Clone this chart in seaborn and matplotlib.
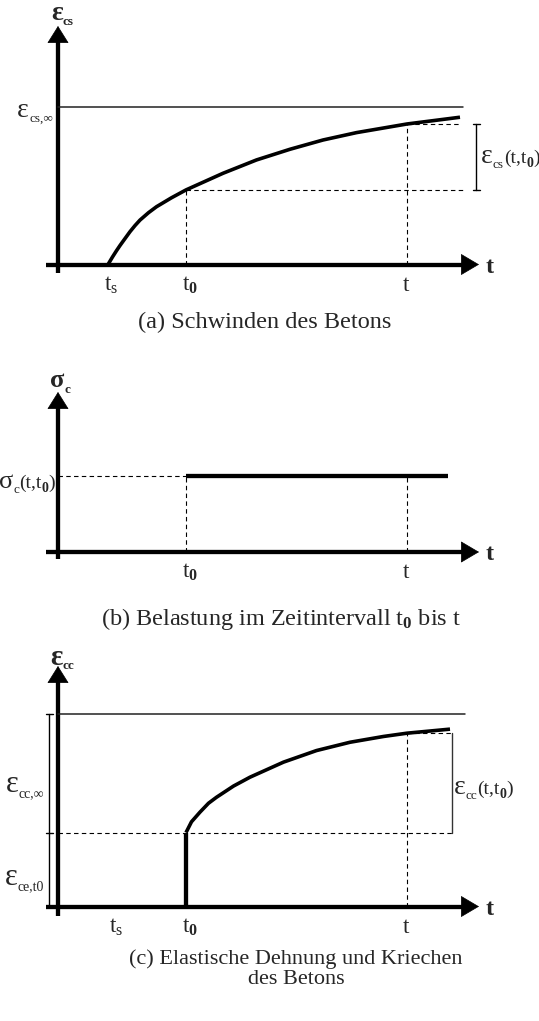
import matplotlib
matplotlib.use("Agg")
import matplotlib.pyplot as plt
import seaborn as sns

# ---- time instants (time units) ----
t_s = 1.0          # start of drying
t_0 = 2.56         # age at loading
t_obs = 6.98       # time of observation

# ---- (a) shrinkage strain of the concrete ----
shrink_t = [1.0, 1.09, 1.17, 1.24, 1.31, 1.44, 1.54, 1.64, 1.81, 1.97, 2.27,
            2.56, 3.3, 3.97, 4.64, 5.3, 5.97, 6.98, 8.04]
shrink_eps = [0.0, 0.048, 0.088, 0.121, 0.152, 0.209, 0.248, 0.283, 0.33,
              0.368, 0.425, 0.475, 0.581, 0.666, 0.734, 0.793, 0.84, 0.895,
              0.938]
eps_cs_inf = 1.0

# ---- (b) sustained stress between t_0 and t ----
sigma_c = 1.0
sigma_end = 7.8

# ---- (c) elastic strain plus creep ----
creep_t = [2.56, 2.67, 2.84, 3.01, 3.17, 3.51, 3.84, 4.51, 5.17, 5.84, 6.51,
           6.98, 7.84]
creep_eps = [0.383, 0.439, 0.489, 0.535, 0.566, 0.624, 0.67, 0.748, 0.808,
             0.851, 0.881, 0.898, 0.919]
eps_ce = 0.383
eps_cc_inf = 1.0

tick_labels_ac = ["t$_\\mathrm{s}$", "t$_\\mathbf{0}$", "t"]
tick_labels_b = ["t$_\\mathbf{0}$", "t"]
captions = ["(a) Schwinden des Betons",
            "(b) Belastung im Zeitintervall t$_\\mathbf{0}$ bis t",
            "(c) Elastische Dehnung und Kriechen\ndes Betons"]

sns.set_theme(style="white")
plt.rcParams["font.family"] = ["Liberation Serif", "DejaVu Serif"]
plt.rcParams["mathtext.fontset"] = "custom"
plt.rcParams["mathtext.rm"] = "Liberation Serif"
plt.rcParams["mathtext.it"] = "Liberation Serif:italic"
plt.rcParams["mathtext.bf"] = "Liberation Serif:bold"

W, H = 539, 1021
fig = plt.figure(figsize=(W / 100, H / 100), dpi=100)
fig.patch.set_facecolor("white")
renderer = fig.canvas.get_renderer()

X0 = 58.0    # pixel column of the vertical axis
SX = 50.0    # pixels per time unit

LW_AX = 3.1
LW_CURVE = 2.6
LW_THIN = 1.0
DASH = dict(color="black", lw=0.8, dashes=(4, 3))
FS = 16.5      # tick labels and time-axis name
FS_CAP = 17.5
B, N = "bold", "normal"


def symbol_label(sym, sub, size=20, sub_size=9.5, weight=N, sub_drop=5):
    return [(sym, size, weight, 0), (sub, sub_size, weight, sub_drop)]


def arg_label(size=14, sub_size=10):
    return [("(t,t", size, N, 0), ("0", sub_size, B, 4), (")", size, N, 0)]


class Panel:
    def __init__(self, top, bottom, y0, sy):
        self.top, self.bottom, self.y0, self.sy = top, bottom, y0, sy
        self.ax = fig.add_axes([0, 1 - bottom / H, 1, (bottom - top) / H])
        self.ax.set_xlim(-X0 / SX, (W - X0) / SX)
        self.ax.set_ylim((y0 - bottom) / sy, (y0 - top) / sy)
        self.ax.axis("off")

    def px(self, x, y):
        """figure pixel position -> data coordinates of this panel"""
        return (x - X0) / SX, (self.y0 - y) / self.sy

    def dy(self, p):
        return p / self.sy

    def text(self, x, y, s, **kw):
        kw.setdefault("fontsize", FS)
        return self.ax.text(*self.px(x, y), s, **kw)

    def rich(self, x, baseline, pieces, ha="left"):
        """label built from pieces (text, size, weight, drop below baseline)"""
        widths = []
        for s, fs, wt, _ in pieces:
            t = self.ax.text(0, 0, s, fontsize=fs, fontweight=wt)
            widths.append(t.get_window_extent(renderer).width)
            t.remove()
        cur = x - sum(widths) if ha == "right" else x
        for (s, fs, wt, drop), w in zip(pieces, widths):
            self.text(cur, baseline + drop, s, fontsize=fs, fontweight=wt,
                      ha="left", va="baseline")
            cur += w

    def draw_axes(self, y_tip_px, y_below_px):
        ax = self.ax
        x_start, x_tip = (46 - X0) / SX, (479 - X0) / SX
        head_x = 17 / SX
        ax.plot([x_start, x_tip - head_x], [0, 0], color="black", lw=LW_AX,
                solid_capstyle="butt")
        ax.annotate("", xy=(x_tip, 0), xytext=(x_tip - head_x, 0),
                    arrowprops=dict(arrowstyle="-|>,head_length=12.2,head_width=7.2",
                                    mutation_scale=1, lw=0.5, color="black",
                                    shrinkA=0, shrinkB=0))
        y_tip = self.dy(self.y0 - y_tip_px)
        head_y = self.dy(16)
        ax.plot([0, 0], [-self.dy(y_below_px), y_tip - head_y], color="black",
                lw=LW_AX, solid_capstyle="butt")
        ax.annotate("", xy=(0, y_tip), xytext=(0, y_tip - head_y),
                    arrowprops=dict(arrowstyle="-|>,head_length=11.5,head_width=7.2",
                                    mutation_scale=1, lw=0.5, color="black",
                                    shrinkA=0, shrinkB=0))
        # name of the time axis
        self.text(486, self.y0 + 8, "t", fontsize=17.5, fontweight=B,
                  va="baseline")

    def tick_labels(self, xs, labels):
        for x, lab in zip(xs, labels):
            px_x = X0 + x * SX
            self.text(px_x - 4, self.y0 + 26, lab, ha="left", va="baseline")


# ============ (a) Schwinden ============
pa = Panel(0, 340, 264.5, 157.0)
ax = pa.ax
pa.draw_axes(26, 8.5)
ax.plot([0, (462.7 - X0) / SX], [eps_cs_inf, eps_cs_inf], color="#222222", lw=1.1)
sns.lineplot(x=shrink_t, y=shrink_eps, ax=ax, color="black", lw=LW_CURVE,
             estimator=None, sort=False, solid_capstyle="butt")
e_t0 = shrink_eps[shrink_t.index(t_0)]
e_t = shrink_eps[shrink_t.index(t_obs)]
ax.plot([t_0, t_0], [0, e_t0], **DASH)
ax.plot([t_0, (465 - X0) / SX], [e_t0, e_t0], **DASH)
ax.plot([t_obs, t_obs], [0, e_t], **DASH)
ax.plot([t_obs, (460 - X0) / SX], [e_t, e_t], **DASH)
xb = (476 - X0) / SX
tk = 3.5 / SX
ax.plot([xb, xb], [e_t0, e_t], color="black", lw=LW_THIN)
ax.plot([xb - tk, xb + tk], [e_t0, e_t0], color="black", lw=LW_THIN)
ax.plot([xb - tk, xb + tk], [e_t, e_t], color="black", lw=LW_THIN)
pa.rich(51, 20, symbol_label("ε", "cs", weight=B))
pa.rich(53, 117, symbol_label("ε", "cs,∞"), ha="right")
pa.rich(481, 163, symbol_label("ε", "cs") + arg_label())
pa.tick_labels([t_s, t_0, t_obs], tick_labels_ac)
pa.text(265, 322, captions[0], ha="center", va="center", fontsize=FS_CAP)

# ============ (b) Belastung ============
pb = Panel(340, 640, 552.0, 76.5)
ax = pb.ax
pb.draw_axes(392, 7)
sns.lineplot(x=[t_0, sigma_end], y=[sigma_c, sigma_c], ax=ax, color="black",
             lw=LW_CURVE + 0.5, estimator=None, solid_capstyle="butt")
ax.plot([0, t_0], [sigma_c, sigma_c], **DASH)
ax.plot([t_0, t_0], [0, sigma_c], **DASH)
ax.plot([t_obs, t_obs], [0, sigma_c], **DASH)
pb.rich(50, 387, symbol_label("σ", "c", size=19, weight=B, sub_drop=6))
pb.rich(55, 488, symbol_label("σ", "c", size=19) + arg_label(), ha="right")
pb.tick_labels([t_0, t_obs], tick_labels_b)
pb.text(281, 619, captions[1], ha="center", va="center", fontsize=FS_CAP)

# ============ (c) Elastische Dehnung und Kriechen ============
pc = Panel(640, 1021, 906.5, 193.0)
ax = pc.ax
pc.draw_axes(666, 9.5)
ax.plot([0, (465 - X0) / SX], [eps_cc_inf, eps_cc_inf], color="#222222", lw=1.1)
ax.plot([t_0, t_0], [0, eps_ce], color="black", lw=LW_AX, solid_capstyle="butt")
sns.lineplot(x=creep_t, y=creep_eps, ax=ax, color="black", lw=LW_CURVE,
             estimator=None, sort=False, solid_capstyle="butt")
c_t = creep_eps[creep_t.index(t_obs)]
x_end = (452 - X0) / SX
ax.plot([0, x_end], [eps_ce, eps_ce], **DASH)
ax.plot([t_obs, t_obs], [0, c_t], **DASH)
ax.plot([t_obs, x_end], [c_t, c_t], **DASH)
ax.plot([x_end, x_end], [eps_ce, c_t], color="#333333", lw=LW_THIN)
xl = (49.3 - X0) / SX
tk = 3.3 / SX
ax.plot([xl, xl], [0, eps_cc_inf], color="black", lw=LW_THIN)
ax.plot([xl - tk, xl + tk], [eps_cc_inf, eps_cc_inf], color="black", lw=LW_THIN)
ax.plot([xl - tk, xl + tk], [eps_ce, eps_ce], color="black", lw=LW_THIN)
pc.rich(50, 665, symbol_label("ε", "cc", size=21, weight=B, sub_drop=4))
pc.rich(44, 792, symbol_label("ε", "cc,∞", size=22, sub_size=10), ha="right")
pc.rich(44, 885, symbol_label("ε", "ce,t0", size=22, sub_size=10), ha="right")
pc.rich(454, 794, symbol_label("ε", "cc") + arg_label())
pc.tick_labels([t_s + 0.1, t_0, t_obs], tick_labels_ac)
pc.text(296, 969, captions[2], ha="center", va="center", fontsize=16,
        linespacing=1.1, multialignment="center")

fig.savefig("out.png", dpi=100, facecolor="white")
